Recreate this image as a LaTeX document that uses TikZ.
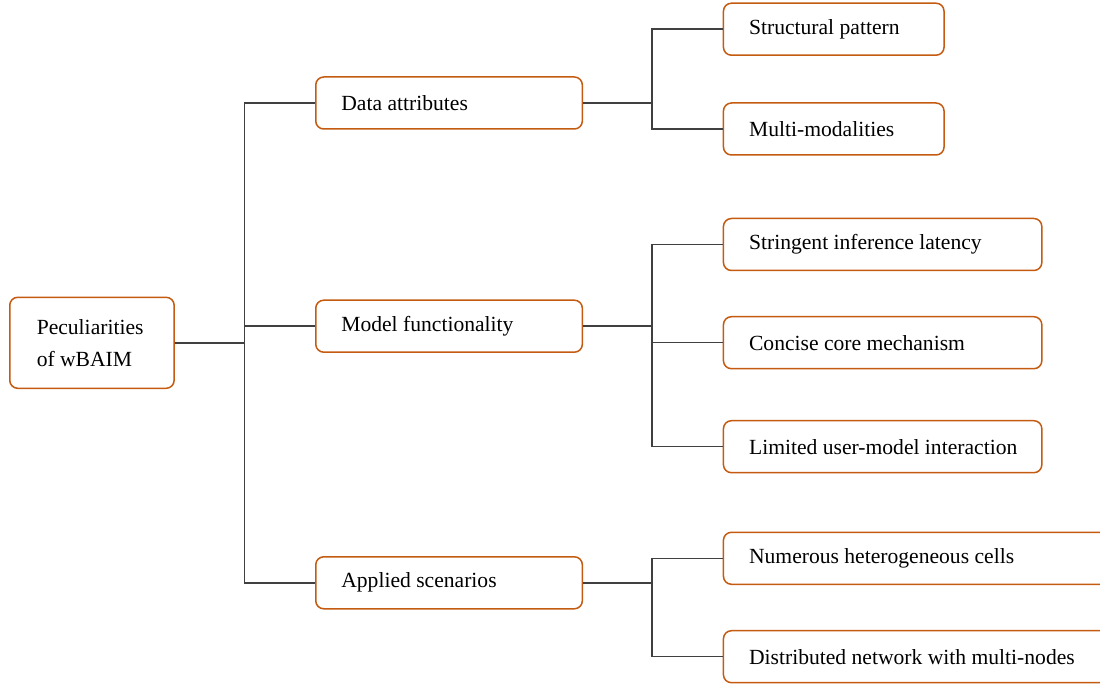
\documentclass[tikz,border=0pt]{standalone}
\usepackage{fontspec}
\setmainfont{Liberation Serif}
\usepackage{tikz}
\definecolor{boxorange}{RGB}{197,90,17}
\definecolor{linegray}{RGB}{64,64,64}

\tikzset{
  boxbase/.style={rectangle, draw=boxorange, line width=0.75pt, rounded corners=4pt, minimum height=26pt, align=flush left, anchor=west, font=\fontsize{10.8}{16}\selectfont},
  box/.style={boxbase, inner xsep=6pt, execute at begin node={\hspace*{6.8pt}}},
  rootbox/.style={boxbase, inner xsep=13.5pt, minimum height=45.5pt},
  link/.style={draw=linegray, line width=0.75pt}
}

\begin{document}
\begin{tikzpicture}[x=0.5pt, y=-0.5pt]
    \useasboundingbox (0,0) rectangle (1100,684);
    \clip (0,0) rectangle (1100,684);
    \node(root) [rootbox, text width=55.2pt] at (9,342.8) {Peculiarities\\of wBAIM};
    \node(da) [box, text width=121.3pt] at (315,103) {Data attributes};
    \node(mf) [box, text width=121.3pt] at (315,326.2) {Model functionality};
    \node(as) [box, text width=121.3pt] at (315,582.8) {Applied scenarios};
    \node(sp) [box, text width=98.3pt] at (722.7,29.2) {Structural pattern};
    \node(mm) [box, text width=98.3pt] at (722.7,129) {Multi-modalities};
    \node(sil) [box, text width=147.2pt] at (722.7,244.5) {Stringent inference latency};
    \node(ccm) [box, text width=147.2pt] at (722.7,342.7) {Concise core mechanism};
    \node(lui) [box, text width=147.2pt] at (722.7,446.7) {Limited user-model interaction};
    \node(nhc) [box, text width=188pt] at (722.7,558.3) {Numerous heterogeneous cells};
    \node(dnm) [box, text width=188pt] at (722.7,656.7) {Distributed network with multi-nodes};
    \coordinate(trunk) at (244.5,342.8);
    \coordinate(daj) at (652,103);
    \coordinate(mfj) at (652,326.2);
    \coordinate(asj) at (652,582.8);
    \draw[link] (root) -- (trunk);
    \draw[link] (trunk) |- (da);
    \draw[link] (trunk) |- (mf);
    \draw[link] (trunk) |- (as);
    \draw[link] (da) -- (daj);
    \draw[link] (daj) |- (sp);
    \draw[link] (daj) |- (mm);
    \draw[link] (mf) -- (mfj);
    \draw[link] (mfj) |- (sil);
    \draw[link] (mfj) |- (ccm);
    \draw[link] (mfj) |- (lui);
    \draw[link] (as) -- (asj);
    \draw[link] (asj) |- (nhc);
    \draw[link] (asj) |- (dnm);
  \end{tikzpicture}
\end{document}
